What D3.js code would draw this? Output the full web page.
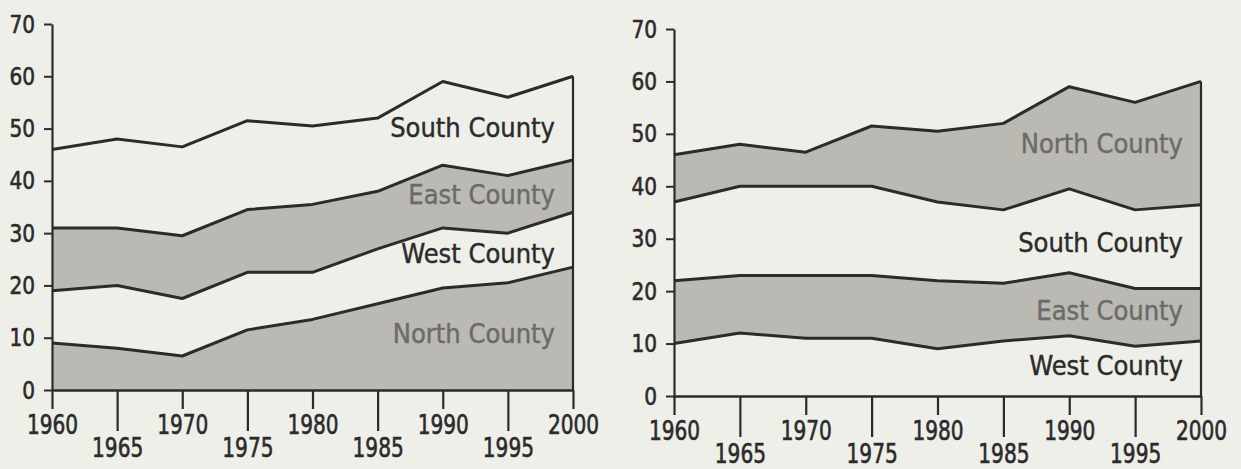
<!DOCTYPE html>
<html>
<head>
<meta charset="utf-8">
<script src="https://cdn.jsdelivr.net/npm/d3@7"></script>
<style>
  body { margin: 0; background: #efefe9; }
  svg { display: block; }
  text { font-family: "DejaVu Sans Condensed", "DejaVu Sans", sans-serif; }
</style>
</head>
<body>
<div id="chart"></div>
<script>
// data (same data, different stacking order)
const years = [1960, 1965, 1970, 1975, 1980, 1985, 1990, 1995, 2000]
const north = [9, 8, 6.5, 11.5, 13.5, 16.5, 19.5, 20.5, 23.5]
const west  = [10, 12, 11, 11, 9, 10.5, 11.5, 9.5, 10.5]
const east  = [12, 11, 12, 12, 13, 11, 12, 11, 10]
const south = [15, 17, 17, 17, 15, 14, 16, 15, 16]
const yTicks = [0, 10, 20, 30, 40, 50, 60, 70]

const names = {north: 'North County', west: 'West County', east: 'East County', south: 'South County'}
const shaded = {north: true, east: true, west: false, south: false}

const rows = years.map((yr, i) => ({year: yr, north: north[i], west: west[i], east: east[i], south: south[i]}))

const W = 1241, H = 469
const paper = '#efefe9', grey = '#bab9b4', ink = '#2b2b2b'

const svg = d3.select('#chart').append('svg')
    .attr('width', W)
    .attr('height', H)

svg.append('rect').attr('width', W).attr('height', H).attr('fill', paper)

// label anchors are values on the y scale where each label baseline sits
const charts = [
  {keys: ['north', 'west', 'east', 'south'], x0: 52, x1: 573, yTop: 24, yBot: 390,
   labels: {south: 48.4, east: 35.6, west: 24.3, north: 9.0}},
  {keys: ['west', 'east', 'south', 'north'], x0: 674, x1: 1201, yTop: 29, yBot: 396,
   labels: {north: 46.3, south: 27.5, east: 14.5, west: 4.0}}
]

// the book uses a narrow DIN-like face, so squeeze the digits a bit
const narrow = sel => sel
    .attr('textLength', d => String(d).length * 12.8)
    .attr('lengthAdjust', 'spacingAndGlyphs')

charts.forEach(c => {
    const x = d3.scaleLinear().domain([1960, 2000]).range([c.x0, c.x1])
    const y = d3.scaleLinear().domain([0, 70]).range([c.yBot, c.yTop])

    const series = d3.stack().keys(c.keys)(rows)

    const area = d3.area()
        .x(d => x(d.data.year))
        .y0(d => y(d[0]))
        .y1(d => y(d[1]))

    const line = d3.line()
        .x(d => x(d.data.year))
        .y(d => y(d[1]))

    const g = svg.append('g')

    g.selectAll('path.band')
        .data(series)
        .join('path')
        .attr('class', 'band')
        .attr('d', area)
        .attr('fill', s => shaded[s.key] ? grey : paper)

    g.selectAll('path.edge')
        .data(series)
        .join('path')
        .attr('class', 'edge')
        .attr('d', line)
        .attr('fill', 'none')
        .attr('stroke', ink)
        .attr('stroke-width', 3)
        .attr('stroke-linejoin', 'round')

    // right border at the last year
    const last = series[series.length - 1]
    g.append('line')
        .attr('x1', x(2000)).attr('x2', x(2000))
        .attr('y1', y(0)).attr('y2', y(last[last.length - 1][1]))
        .attr('stroke', ink)
        .attr('stroke-width', 2.2)

    // labels
    c.keys.forEach(k => {
        const col = shaded[k] ? '#6b6b68' : ink
        g.append('text')
            .attr('x', x(2000) - 18)
            .attr('y', y(c.labels[k]))
            .attr('text-anchor', 'end')
            .attr('font-size', 27)
            .attr('fill', col)
            .attr('stroke', col)
            .attr('stroke-width', 0.4)
            .text(names[k])
    })

    // axes
    const yAxis = g.append('g')
        .attr('transform', `translate(${c.x0},0)`)
        .call(d3.axisLeft(y).tickValues(yTicks).tickSize(8).tickSizeOuter(0).tickPadding(9))
    yAxis.select('.domain').attr('stroke', ink).attr('stroke-width', 2.2)
    yAxis.selectAll('.tick line').attr('stroke', ink).attr('stroke-width', 2)
    yAxis.selectAll('.tick text')
        .attr('font-size', 25)
        .attr('fill', ink)
        .attr('stroke', ink)
        .attr('stroke-width', 0.6)
        .call(narrow)

    const xAxis = g.append('g')
        .attr('transform', `translate(0,${c.yBot})`)
        .call(d3.axisBottom(x).tickValues(years).tickFormat(d3.format('d')).tickSizeOuter(0))
    xAxis.select('.domain').attr('stroke', ink).attr('stroke-width', 2.6)
    xAxis.selectAll('.tick line')
        .attr('stroke', ink)
        .attr('stroke-width', 2.2)
        .attr('y2', (d, i) => i % 2 ? 41 : 19)
    xAxis.selectAll('.tick text')
        .attr('font-size', 26)
        .attr('fill', ink)
        .attr('stroke', ink)
        .attr('stroke-width', 0.6)
        .attr('dy', null)
        .attr('y', (d, i) => i % 2 ? 67 : 44)
        .call(narrow)
})
</script>
</body>
</html>
